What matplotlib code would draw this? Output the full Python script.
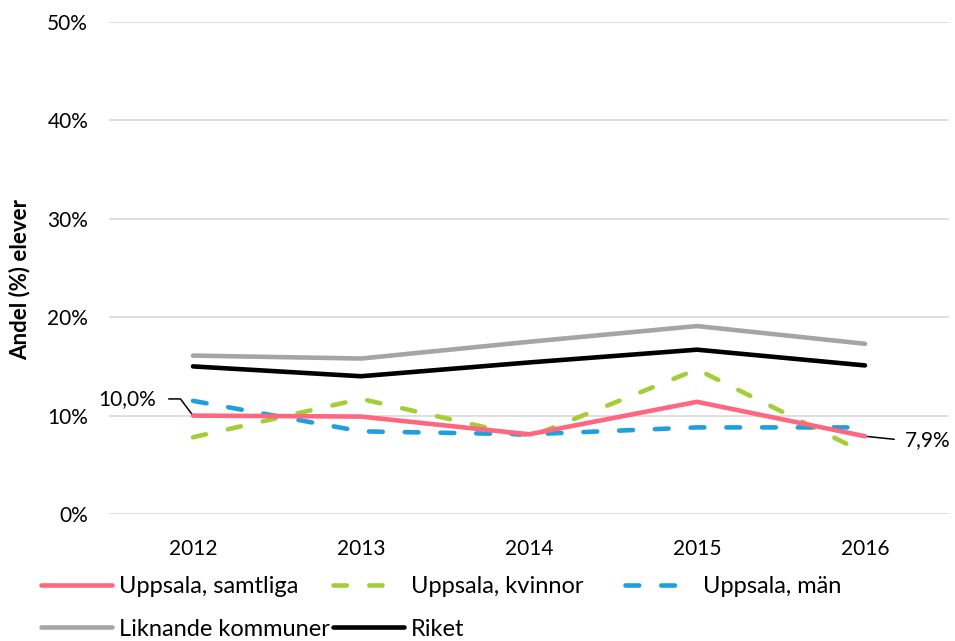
import matplotlib
matplotlib.use("Agg")
import matplotlib.pyplot as plt

years = ["2012", "2013", "2014", "2015", "2016"]
samtliga = [10.0, 9.9, 8.1, 11.4, 7.9]
kvinnor = [7.8, 11.7, 7.8, 14.7, 6.2]
man = [11.5, 8.4, 8.1, 8.8, 8.8]
liknande = [16.1, 15.8, 17.5, 19.1, 17.3]
riket = [15.0, 14.0, 15.4, 16.7, 15.1]
yticks = [0, 10, 20, 30, 40, 50]

plt.rcParams['font.family'] = ['Lato', 'DejaVu Sans']

fig = plt.figure(figsize=(9.55, 6.41), dpi=100)
ax = fig.add_axes([109/955, 1-514/641, (949-109)/955, (514-22)/641])

x = list(range(len(years)))
lw = 3.3
ax.plot(x, liknande, color="#a5a5a5", lw=lw, solid_capstyle="round", zorder=3, label="Liknande kommuner")
ax.plot(x, riket, color="#000000", lw=lw, solid_capstyle="round", zorder=3, label="Riket")
ax.plot(x, kvinnor, color="#a5cd39", lw=lw, linestyle=(0, (2.9, 4.9)), dash_capstyle="round", zorder=4, label="Uppsala, kvinnor")
ax.plot(x, man, color="#1fa0dc", lw=lw, linestyle=(0, (3.0, 4.8)), dash_capstyle="round", zorder=4, label="Uppsala, män")
ax.plot(x, samtliga, color="#ff6680", lw=lw, solid_capstyle="round", zorder=5, label="Uppsala, samtliga")

ax.set_xlim(-0.5, len(years) - 0.5)
ax.set_ylim(0, 50)
ax.set_yticks(yticks)
ax.set_yticklabels([f"{v}%" for v in yticks])
ax.set_xticks(x)
ax.set_xticklabels(years)
ax.tick_params(length=0, labelsize=15, colors="#000000")
ax.tick_params(axis="y", pad=15)
ax.tick_params(axis="x", pad=18)
ax.grid(axis="y", color="#d9d9d9", lw=1.2, zorder=0)
for s in ax.spines.values():
    s.set_visible(False)
ax.set_ylabel("Andel (%) elever", fontsize=16, fontweight="bold")
ax.yaxis.set_label_coords(-0.093, 0.476)

ax.annotate(f"{samtliga[0]:.1f}%".replace(".", ","), xy=(0, samtliga[0]), xytext=(-26.5, 12),
            textcoords="offset points", ha="right", va="center", fontsize=15,
            arrowprops=dict(arrowstyle="-", color="black", lw=1.1, relpos=(1, 0.5),
                            shrinkA=7, shrinkB=0,
                            connectionstyle="angle,angleA=0,angleB=127,rad=0"))
ax.annotate(f"{samtliga[-1]:.1f}%".replace(".", ","), xy=(4, samtliga[-1]), xytext=(29, -3),
            textcoords="offset points", ha="left", va="center", fontsize=15,
            arrowprops=dict(arrowstyle="-", color="black", lw=1.1, relpos=(0, 0.5),
                            shrinkA=6, shrinkB=0))

h = {l.get_label(): l for l in ax.get_lines()}
groups = [(["Uppsala, samtliga", "Liknande kommuner"], 41),
          (["Uppsala, kvinnor", "Riket"], 333),
          (["Uppsala, män"], 625)]
for labels, xpx in groups:
    leg = fig.legend([h[l] for l in labels], labels,
                     loc="upper left", bbox_to_anchor=(xpx/955, 1-576/641), ncol=1, frameon=False,
                     fontsize=17, handlelength=3.0, handletextpad=0.3, labelspacing=0.92,
                     borderpad=0, borderaxespad=0)

fig.savefig("out.png", dpi=100)
